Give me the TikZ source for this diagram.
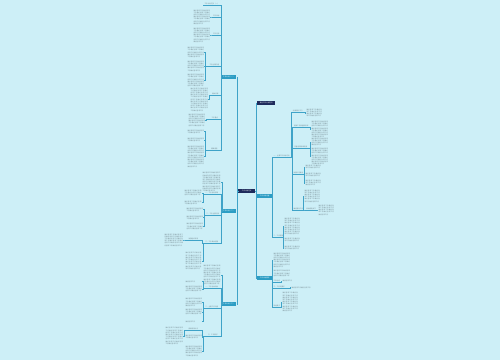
\documentclass[tikz,border=0pt]{standalone}
\usepackage{fontspec}
\newfontfamily\cjk{Noto Sans CJK SC}
\XeTeXlinebreaklocale "zh"
\XeTeXlinebreakskip = 0pt plus 0.5pt
\definecolor{bg}{HTML}{CDEFF7}
\definecolor{ln}{HTML}{3FA3C8}
\definecolor{navy}{HTML}{1E2B5C}
\definecolor{tealb}{HTML}{2C9DC4}
\definecolor{tx}{HTML}{758A92}
\newcommand\tinyfont{\cjk\fontsize{1.6}{2.2}\selectfont}
\newcommand\chunk{做好各项工作}
\tikzset{
 conn/.style={draw=ln, line width=0.55pt},
 rootbox/.style={fill=navy, text=white, font=\tinyfont, inner sep=0.4pt, minimum height=3.8pt, anchor=west},
 tealbox/.style={fill=tealb, text=white, font=\tinyfont, inner sep=0.4pt, minimum height=3.6pt},
 lab/.style={font=\tinyfont, text=tx, inner sep=0.3pt, minimum height=2.4pt},
 leaf/.style={font=\tinyfont, text=tx, inner sep=0.3pt, align=justify, anchor=west},
}
% leaf block: name, x-left, y-centre, x-right, height
\newcommand\leafblk[5]{%
 \pgfmathsetmacro\myW{#4-#2-0.6}%
 \pgfmathtruncatemacro\myL{max(1,floor(#5/2.2+0.3))}%
 \pgfmathtruncatemacro\myC{floor((#4-#2-0.6)/1.6)}%
 \pgfmathtruncatemacro\myN{max(1,floor(\myL*\myC/6))}%
 \node[leaf, text width=\myW pt] (#1) at (#2,#3) {\foreach \i in {1,...,\myN}{\chunk}};}
% label with underline: name, anchor, x, y, width, text
\newcommand\labnode[6]{%
 \node[lab, anchor=#2, minimum width=#5pt] (#1) at (#3,#4) {#6};
 \draw[conn] (#1.south west) -- (#1.south east);}
\newcommand\rc[2]{\draw[conn] (#1) -| ([xshift=-1pt]#2) -- (#2);}
\newcommand\lc[2]{\draw[conn] (#1) -| ([xshift=1pt]#2) -- (#2);}
\begin{document}
\begin{tikzpicture}[x=1pt,y=-1pt]
\fill[bg] (0,0) rectangle (500,360);
\useasboundingbox (0,0) rectangle (500,360);

% root and main branches
\node[rootbox, minimum width=17pt] (root) at (238,191) {工作计划范文};
\node[rootbox, minimum width=18pt] (R1) at (257,103) {单位工作计划范文};
\node[tealbox, anchor=west, minimum width=15pt] (R2) at (257,196) {工作计划内容};
\node[tealbox, anchor=west, minimum width=15pt] (R3) at (257,278) {工作计划要求};
\node[tealbox, anchor=east, minimum width=15pt] (L1) at (236.5,77) {工作计划（一）};
\node[tealbox, anchor=east, minimum width=15pt] (L2) at (236.5,211) {工作计划（二）};
\node[tealbox, anchor=east, minimum width=15pt] (L3) at (236.5,304) {工作计划（三）};
\rc{root.east}{R1.west}
\rc{root.east}{R2.west}
\rc{root.east}{R3.west}
\lc{root.west}{L1.east}
\lc{root.west}{L2.east}
\lc{root.west}{L3.east}

% ---- right: R2
\labnode{R2a}{south west}{273}{157}{17}{一、主要工作目标任务}
\labnode{R2b}{south west}{273}{237}{10}{二、工作措施}
\rc{R2.east}{R2a.south west}
\rc{R2.east}{R2b.south west}

\labnode{c1}{south west}{292}{112}{11}{加强理论学习}
\labnode{c2}{south west}{293}{127}{16}{提高工作质量和效率}
\labnode{c3}{south west}{293}{148}{15}{完善各项规章制度}
\labnode{c4}{south west}{293}{174}{10}{加强队伍建设}
\labnode{c5}{south west}{293}{210}{10}{做好服务工作}
\foreach \c in {c1,c2,c3,c4,c5}{\rc{R2a.south east}{\c.south west}}

\leafblk{c1l}{306}{113}{322}{10}
\rc{c1.south east}{c1l.west}
\leafblk{c2l}{311}{129.5}{328}{17}
\rc{c2.south east}{c2l.west}
\leafblk{c3la}{311}{142}{328}{10}
\leafblk{c3lb}{311}{156.5}{328}{17}
\rc{c3.south east}{c3la.west}
\rc{c3.south east}{c3lb.west}
\leafblk{c4la}{305}{167}{321}{4}
\leafblk{c4lb}{305}{174.5}{321}{5}
\leafblk{c4lc}{305}{183}{321}{8}
\rc{c4.south east}{c4la.west}
\rc{c4.south east}{c4lb.west}
\rc{c4.south east}{c4lc.west}
\leafblk{c5l}{304}{196}{320}{14}
\labnode{c5s}{south west}{305}{210}{12}{具体措施如下}
\rc{c5.south east}{c5l.west}
\rc{c5.south east}{c5s.south west}
\leafblk{c5sl}{318}{210}{334}{11}
\rc{c5s.south east}{c5sl.west}

\leafblk{R2bla}{284}{226.5}{300}{17}
\leafblk{R2blb}{284}{240}{300}{5}
\leafblk{R2blc}{284}{248}{300}{4}
\rc{R2b.south east}{R2bla.west}
\rc{R2b.south east}{R2blb.west}
\rc{R2b.south east}{R2blc.west}

% ---- right: R3
\leafblk{R3a}{273}{260}{290}{16}
\leafblk{R3b}{273}{273.5}{290}{7}
\labnode{R3c}{south west}{273}{282}{7}{工作总结}
\labnode{R3d}{south west}{273}{288}{12}{三、工作的要求}
\labnode{R3e}{south west}{273}{307}{7}{其他要求}
\rc{R3.east}{R3a.west}
\rc{R3.east}{R3b.west}
\rc{R3.east}{R3c.south west}
\rc{R3.east}{R3d.south west}
\rc{R3.east}{R3e.south west}
\leafblk{R3cl}{282}{281}{298}{3}
\rc{R3c.south east}{R3cl.west}
\leafblk{R3dl}{291}{287.5}{315}{3}
\rc{R3d.south east}{R3dl.west}
\leafblk{R3el}{282}{302}{298}{20}
\rc{R3e.south east}{R3el.west}

% ---- left: L1
\labnode{L1a}{south east}{220.5}{5}{17}{工作计划范文（一）}
\labnode{L1b}{south east}{220.5}{17}{8}{工作目标}
\labnode{L1c}{south east}{220.5}{35}{8}{工作任务}
\labnode{L1d}{south east}{220.5}{66}{12}{工作主要内容}
\labnode{L1e}{south east}{220.5}{95}{10}{具体安排}
\labnode{L1f}{south east}{220.5}{119}{11}{工作重点}
\labnode{L1g}{south east}{220.5}{150}{12}{保障措施}
\foreach \c in {L1a,L1b,L1c,L1d,L1e,L1f,L1g}{\lc{L1.west}{\c.south east}}
\leafblk{L1bl}{193}{17}{210}{16}
\lc{L1b.south west}{L1bl.east}
\leafblk{L1cl}{193}{35}{210}{16}
\lc{L1c.south west}{L1cl.east}
\leafblk{L1dla}{187}{52.5}{204}{11}
\leafblk{L1dlb}{187}{66}{204}{12}
\leafblk{L1dlc}{187}{80.5}{204}{13}
\lc{L1d.south west}{L1dla.east}
\lc{L1d.south west}{L1dlb.east}
\lc{L1d.south west}{L1dlc.east}
\leafblk{L1el}{190}{99.5}{208}{25}
\lc{L1e.south west}{L1el.east}
\leafblk{L1fl}{188}{120}{205}{14}
\lc{L1f.south west}{L1fl.east}
\leafblk{L1gla}{187}{131.5}{204}{5}
\leafblk{L1glb}{187}{140}{204}{4}
\leafblk{L1glc}{187}{156.5}{204}{23}
\lc{L1g.south west}{L1gla.east}
\lc{L1g.south west}{L1glb.east}
\lc{L1g.south west}{L1glc.east}

% ---- left: L2
\leafblk{L2a}{202}{182}{220.5}{20}
\labnode{L2b}{south east}{220.5}{194}{17}{一、工作指导思想}
\labnode{L2c}{south east}{220.5}{215}{15}{二、工作主要任务}
\labnode{L2d}{south east}{220.5}{243}{17}{三、工作具体措施}
\lc{L2.west}{L2a.east}
\lc{L2.west}{L2b.south east}
\lc{L2.west}{L2c.south east}
\lc{L2.west}{L2d.south east}
\leafblk{L2bla}{184}{193}{201.5}{6}
\leafblk{L2blb}{184}{202.5}{201.5}{5}
\lc{L2b.south west}{L2bla.east}
\lc{L2b.south west}{L2blb.east}
\leafblk{L2cla}{186}{209.5}{203}{5}
\leafblk{L2clb}{186}{217.5}{203}{5}
\leafblk{L2clc}{186}{226.5}{203}{7}
\lc{L2c.south west}{L2cla.east}
\lc{L2c.south west}{L2clb.east}
\lc{L2c.south west}{L2clc.east}
\labnode{L2ds}{south east}{201.5}{240}{16}{加强组织领导}
\leafblk{L2dl}{185}{261}{201.5}{18}
\lc{L2d.south west}{L2ds.south east}
\lc{L2d.south west}{L2dl.east}
\leafblk{L2dsl}{164}{240}{183}{14}
\lc{L2ds.south west}{L2dsl.east}

% ---- left: L3
\leafblk{L3a}{203}{275}{220.5}{20}
\labnode{L3b}{south east}{220.5}{288}{17}{一、工作总体目标}
\labnode{L3c}{south east}{220.5}{308}{17}{二、主要工作内容}
\labnode{L3d}{south east}{220.5}{336}{15}{三、工作要求}
\lc{L3.west}{L3a.east}
\lc{L3.west}{L3b.south east}
\lc{L3.west}{L3c.south east}
\lc{L3.west}{L3d.south east}
\leafblk{L3bla}{185}{281.5}{202}{3}
\leafblk{L3blb}{185}{289}{202}{8}
\lc{L3b.south west}{L3bla.east}
\lc{L3b.south west}{L3blb.east}
\leafblk{L3cla}{185}{302.5}{202}{9}
\leafblk{L3clb}{185}{312}{202}{6}
\leafblk{L3clc}{185}{321.5}{202}{3}
\lc{L3c.south west}{L3cla.east}
\lc{L3c.south west}{L3clb.east}
\lc{L3c.south west}{L3clc.east}
\labnode{L3ds}{south east}{201.5}{330}{16}{提高思想认识}
\leafblk{L3dla}{185}{337}{202}{5}
\leafblk{L3dlb}{185}{351}{202}{12}
\lc{L3d.south west}{L3ds.south east}
\lc{L3d.south west}{L3dla.east}
\lc{L3d.south west}{L3dlb.east}
\leafblk{L3dsl}{165}{336}{183}{18}
\lc{L3ds.south west}{L3dsl.east}
\end{tikzpicture}
\end{document}
